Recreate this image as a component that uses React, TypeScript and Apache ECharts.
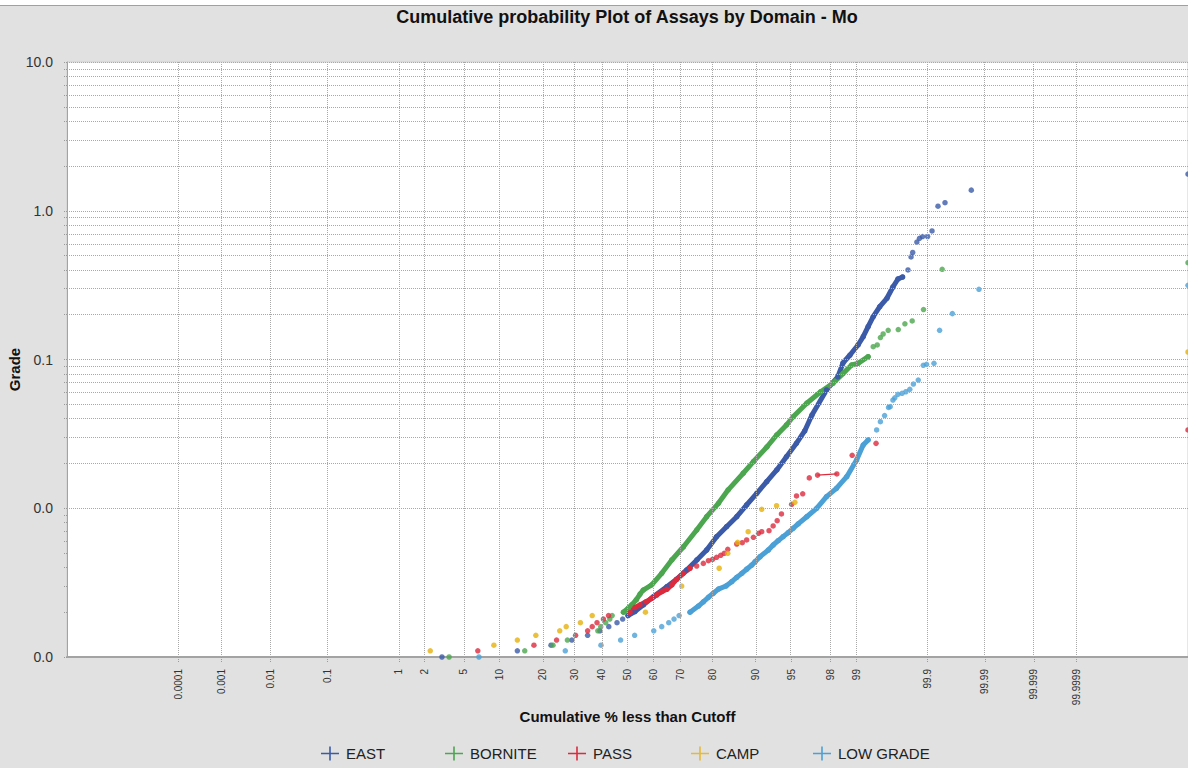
import React, { useEffect, useRef } from "react";
import * as echarts from "echarts";

const TITLE = "Cumulative probability Plot of Assays by Domain - Mo";
const X_NAME = "Cumulative % less than Cutoff";
const Y_NAME = "Grade";

const X_TICK_PCT = [0.0001, 0.001, 0.01, 0.1, 1, 2, 5, 10, 20, 30, 40, 50, 60, 70, 80, 90, 95, 98, 99, 99.9, 99.99, 99.999, 99.9999];
const X_TICK_LABELS = ["0.0001", "0.001", "0.01", "0.1", "1", "2", "5", "10", "20", "30", "40", "50", "60", "70", "80", "90", "95", "98", "99", "99.9", "99.99", "99.999", "99.9999"];
const Y_GRID_VALUES = [
  0.001, 0.002, 0.003, 0.004, 0.005, 0.006, 0.007, 0.008, 0.009,
  0.01, 0.02, 0.03, 0.04, 0.05, 0.06, 0.07, 0.08, 0.09,
  0.1, 0.2, 0.3, 0.4, 0.5, 0.6, 0.7, 0.8, 0.9,
  1, 2, 3, 4, 5, 6, 7, 8, 9, 10,
];

const NAMES = ["EAST", "BORNITE", "PASS", "CAMP", "LOW GRADE"];
const COLORS = ["#3b5aa8", "#4ca64f", "#dc2b3d", "#e6b00c", "#4ba0d6"];

// EAST
const EAST_PCT = [3.05, 13.6, 22.4, 29.1, 34.7, 39.3, 42.7, 45.9, 48.1, 99.8, 99.82, 99.83, 99.853, 99.866, 99.88, 99.9, 99.915, 99.932, 99.948, 99.982, 100];
const EAST_GRADE = [0.001, 0.0011, 0.0012, 0.0013, 0.0014, 0.0015, 0.0016, 0.0017, 0.0018, 0.4, 0.489, 0.524, 0.616, 0.653, 0.671, 0.671, 0.731, 1.073, 1.133, 1.376, 1.766];
const EAST_BAND_PCT = [50.2, 52.9, 56.2, 60.0, 65.1, 68.6, 72.1, 75.4, 78.4, 81.2, 83.8, 86.2, 88.3, 90.2, 91.85, 93.3, 94.5, 95.55, 96.3, 96.87, 97.8, 98.35, 98.56, 98.81, 99.05, 99.18, 99.29, 99.39, 99.5, 99.6, 99.67, 99.72, 99.76];
const EAST_BAND_GRADE = [0.0019, 0.00202, 0.00224, 0.00254, 0.00297, 0.00333, 0.00385, 0.00449, 0.00524, 0.00644, 0.00752, 0.00877, 0.01052, 0.0126, 0.0151, 0.0181, 0.0222, 0.0273, 0.0331, 0.0423, 0.0624, 0.0763, 0.0947, 0.1072, 0.1252, 0.1423, 0.1661, 0.1939, 0.2265, 0.2579, 0.3072, 0.3477, 0.3586];

// BORNITE
const BORNITE_PCT = [3.6, 15.3, 23.0, 27.6, 38.5, 39.6, 41.5, 43.1, 44.0, 99.39, 99.46, 99.51, 99.55, 99.616, 99.723, 99.778, 99.827, 99.884, 99.942, 100];
const BORNITE_GRADE = [0.001, 0.0011, 0.0012, 0.0013, 0.0015, 0.0016, 0.0017, 0.0018, 0.0019, 0.1219, 0.1252, 0.1405, 0.1484, 0.1572, 0.159, 0.1738, 0.1815, 0.2168, 0.4041, 0.4475];
const BORNITE_BAND_PCT = [48.4, 50.3, 51.65, 53.4, 54.9, 56.15, 59.4, 63.2, 66.9, 71.0, 75.35, 78.4, 81.7, 84.2, 87.6, 89.6, 91.9, 93.3, 94.5, 95.2, 96.47, 97.46, 98.13, 98.57, 98.86, 99.05, 99.29];
const BORNITE_BAND_GRADE = [0.002, 0.00213, 0.00224, 0.00242, 0.00265, 0.00282, 0.00305, 0.00365, 0.00449, 0.00551, 0.00714, 0.00877, 0.0108, 0.0133, 0.0172, 0.0206, 0.0259, 0.0311, 0.0363, 0.0411, 0.0508, 0.0607, 0.0692, 0.0807, 0.0918, 0.0943, 0.1044];

// PASS
const PASS_PCT = [6.65, 17.6, 24.1, 30.4, 34.7, 36.4, 38.2, 40.65, 42.6, 75.35, 77.4, 78.9, 80.1, 81.2, 82.3, 83.2, 84.1, 86.2, 87.4, 88.3, 89.6, 90.5, 91.05, 92.2, 92.8, 93.35, 93.9, 95.07, 95.56, 96.13, 96.67, 97.26, 98.31, 98.88, 99.44, 100];
const PASS_GRADE = [0.0011, 0.0012, 0.0013, 0.0014, 0.0015, 0.0016, 0.0017, 0.0018, 0.0019, 0.00409, 0.00426, 0.00444, 0.00454, 0.00468, 0.00483, 0.00498, 0.0053, 0.00575, 0.00587, 0.00612, 0.00638, 0.00679, 0.00696, 0.00706, 0.0076, 0.00825, 0.00915, 0.01063, 0.01209, 0.0125, 0.016, 0.0167, 0.017, 0.0227, 0.0273, 0.0336];
const PASS_BAND_PCT = [51.0, 52.9, 54.9, 57.2, 59.4, 61.3, 63.2, 65.1, 66.9, 68.6, 70.95, 73.2];
const PASS_BAND_GRADE = [0.00199, 0.00215, 0.00224, 0.00235, 0.00248, 0.00261, 0.00275, 0.00285, 0.00305, 0.00332, 0.00365, 0.00395];
const PASS_LINK = [31, 32];

// CAMP
const CAMP_PCT = [2.3, 9.05, 13.6, 18.1, 25.1, 27.2, 32.1, 36.4, 57.0, 70.4, 81.9, 84.1, 86.4, 88.6, 91.05, 93.27, 95.4, 100];
const CAMP_GRADE = [0.0011, 0.0012, 0.0013, 0.0014, 0.0015, 0.0016, 0.0017, 0.0019, 0.002, 0.003, 0.00395, 0.00498, 0.0059, 0.00696, 0.00984, 0.0104, 0.01096, 0.1123];

// LOW GRADE
const LOW_PCT = [6.8, 26.9, 39.7, 47.3, 52.8, 60.2, 63.2, 65.8, 67.7, 69.5, 99.45, 99.51, 99.57, 99.62, 99.64, 99.67, 99.69, 99.72, 99.756, 99.785, 99.812, 99.834, 99.86, 99.883, 99.896, 99.921, 99.936, 99.961, 99.987, 100];
const LOW_GRADE_VALUES = [0.001, 0.0011, 0.0012, 0.0013, 0.0014, 0.0015, 0.0016, 0.0017, 0.0018, 0.0019, 0.0336, 0.0382, 0.042, 0.0476, 0.0482, 0.0534, 0.0553, 0.0583, 0.0593, 0.0607, 0.063, 0.0684, 0.0728, 0.0914, 0.0928, 0.0943, 0.1572, 0.2035, 0.2964, 0.3153];
const LOW_BAND_PCT = [73.2, 75.9, 77.4, 78.9, 80.3, 81.7, 83.65, 85.05, 86.2, 87.3, 88.3, 89.3, 89.9, 90.76, 92.1, 92.8, 93.48, 94.1, 94.69, 95.22, 95.72, 96.47, 97.2, 97.8, 98.29, 98.7, 99.01, 99.18, 99.29];
const LOW_BAND_GRADE = [0.002, 0.0022, 0.00235, 0.00252, 0.00268, 0.00286, 0.003, 0.00321, 0.00343, 0.00365, 0.00389, 0.00415, 0.00437, 0.00472, 0.00524, 0.00566, 0.00605, 0.00644, 0.00685, 0.00733, 0.00784, 0.00877, 0.00999, 0.01196, 0.0136, 0.0163, 0.0211, 0.0266, 0.0288];

const FONT = '"Liberation Sans", Arial, sans-serif';
const K = 0.0155;
const X_MAX = 5.495;
const LEGEND_LEFT = [321, 445, 568, 691, 813];
const CROSS_ICON = "path://M0,6.2h18v1.6h-18z M8.2,0h1.6v14h-1.6z";

function invNorm(p: number): number {
  const a = [-3.969683028665376e1, 2.209460984245205e2, -2.759285104469687e2, 1.38357751867269e2, -3.066479806614716e1, 2.506628277459239];
  const b = [-5.447609879822406e1, 1.615858368580409e2, -1.556989798598866e2, 6.680131188771972e1, -1.328068155288572e1];
  const c = [-7.784894002430293e-3, -3.223964580411365e-1, -2.400758277161838, -2.5496710102297, 4.374664141464968, 2.938163982698783];
  const d = [7.784695709041462e-3, 3.224671290700398e-1, 2.445134137142996, 3.754408661907416];
  const plow = 0.02425;
  const phigh = 1 - plow;
  if (p < plow) {
    const q = Math.sqrt(-2 * Math.log(p));
    return (((((c[0] * q + c[1]) * q + c[2]) * q + c[3]) * q + c[4]) * q + c[5]) / ((((d[0] * q + d[1]) * q + d[2]) * q + d[3]) * q + 1);
  }
  if (p <= phigh) {
    const q = p - 0.5;
    const r = q * q;
    return ((((((a[0] * r + a[1]) * r + a[2]) * r + a[3]) * r + a[4]) * r + a[5]) * q) / (((((b[0] * r + b[1]) * r + b[2]) * r + b[3]) * r + b[4]) * r + 1);
  }
  const q = Math.sqrt(-2 * Math.log(1 - p));
  return -(((((c[0] * q + c[1]) * q + c[2]) * q + c[3]) * q + c[4]) * q + c[5]) / ((((d[0] * q + d[1]) * q + d[2]) * q + d[3]) * q + 1);
}

function pctToX(pct: number): number {
  if (pct >= 100) return X_MAX;
  if (pct <= 0) return -X_MAX;
  const z = invNorm(pct / 100);
  return z - K * z * Math.abs(z);
}

const pairs = (xs: number[], ys: number[]) => xs.map((p, i) => [pctToX(p), ys[i]]);
const X_TICK_W = X_TICK_PCT.map(pctToX);

export default function App() {
  const ref = useRef<HTMLDivElement>(null);

  useEffect(() => {
    if (!ref.current) return;
    const chart = echarts.init(ref.current, undefined, { renderer: "svg" });

    const domains = [
      { band: [EAST_BAND_PCT, EAST_BAND_GRADE], pts: [EAST_PCT, EAST_GRADE] },
      { band: [BORNITE_BAND_PCT, BORNITE_BAND_GRADE], pts: [BORNITE_PCT, BORNITE_GRADE] },
      { band: [PASS_BAND_PCT, PASS_BAND_GRADE], pts: [PASS_PCT, PASS_GRADE] },
      { band: null, pts: [CAMP_PCT, CAMP_GRADE] },
      { band: [LOW_BAND_PCT, LOW_BAND_GRADE], pts: [LOW_PCT, LOW_GRADE_VALUES] },
    ];

    const series: any[] = [
      {
        type: "scatter",
        name: "__grid",
        data: [[0, 1]],
        symbolSize: 0,
        silent: true,
        z: 1,
        markLine: {
          silent: true,
          symbol: ["none", "none"],
          label: { show: false },
          animation: false,
          lineStyle: { type: "dotted", color: "#a8a8a8", width: 1 },
          data: [
            ...X_TICK_W.map((w) => ({ xAxis: w })),
            ...Y_GRID_VALUES.map((v) => ({ yAxis: v })),
          ],
        },
      },
    ];

    domains.forEach((d, i) => {
      const color = COLORS[i];
      if (d.band) {
        series.push({
          type: "line",
          name: NAMES[i],
          data: pairs(d.band[0], d.band[1]),
          symbol: "circle",
          symbolSize: 5.5,
          showSymbol: true,
          itemStyle: { color },
          lineStyle: { color, width: 5, cap: "round", join: "round" },
          z: 3,
        });
      }
      const s: any = {
        type: "scatter",
        name: NAMES[i],
        data: pairs(d.pts[0], d.pts[1]),
        symbol: "circle",
        symbolSize: 5.5,
        itemStyle: { color },
        z: 3,
      };
      if (i === 2) {
        const p = pairs(d.pts[0], d.pts[1]);
        s.markLine = {
          silent: true,
          symbol: ["none", "none"],
          label: { show: false },
          animation: false,
          lineStyle: { type: "solid", color, width: 1.2 },
          data: [[{ coord: p[PASS_LINK[0]] }, { coord: p[PASS_LINK[1]] }]],
        };
      }
      series.push(s);
    });

    const option: any = {
      animation: false,
      backgroundColor: "#e1e1e1",
      title: {
        text: TITLE,
        left: 627,
        top: 8,
        padding: 0,
        textAlign: "center",
        textStyle: { fontFamily: FONT, fontSize: 18, fontWeight: "bold", color: "#111" },
      },
      grid: {
        left: 67,
        top: 62,
        width: 1121,
        height: 595,
        containLabel: false,
        outerBoundsMode: "none",
        show: true,
        backgroundColor: "#ffffff",
        borderColor: "#cfcfcf",
        borderWidth: 1,
      },
      xAxis: {
        type: "value",
        min: -X_MAX,
        max: X_MAX,
        name: X_NAME,
        nameLocation: "middle",
        nameGap: 52,
        nameMoveOverlap: false,
        nameTextStyle: { fontFamily: FONT, fontSize: 15, fontWeight: "bold", color: "#111" },
        axisLine: { show: true, onZero: false, lineStyle: { color: "#a3a3a3", width: 2 } },
        axisTick: { show: true, customValues: X_TICK_W, length: 5, lineStyle: { type: "dotted", color: "#9a9a9a" } },
        axisLabel: {
          customValues: X_TICK_W,
          rotate: 90,
          margin: 12,
          fontFamily: FONT,
          fontSize: 10,
          color: "#333",
          formatter: (v: number) => {
            let best = 0;
            for (let i = 1; i < X_TICK_W.length; i++) {
              if (Math.abs(X_TICK_W[i] - v) < Math.abs(X_TICK_W[best] - v)) best = i;
            }
            return X_TICK_LABELS[best];
          },
        },
        splitLine: { show: false },
      },
      yAxis: {
        type: "log",
        logBase: 10,
        min: 0.001,
        max: 10,
        name: Y_NAME,
        nameLocation: "middle",
        nameGap: 45,
        nameMoveOverlap: false,
        nameTextStyle: { fontFamily: FONT, fontSize: 15, fontWeight: "bold", color: "#111", padding: [0, 20, 0, 0] },
        axisLine: { show: true, onZero: false, lineStyle: { color: "#a3a3a3", width: 1 } },
        axisTick: { show: true, customValues: Y_GRID_VALUES, length: 4, lineStyle: { type: "dotted", color: "#9a9a9a" } },
        axisLabel: {
          margin: 14,
          fontFamily: FONT,
          fontSize: 14,
          color: "#333",
          formatter: (v: number) => Number(v).toFixed(1),
        },
        splitLine: { show: false },
        minorSplitLine: { show: false },
      },
      legend: NAMES.map((n, i) => ({
        data: [{ name: n, icon: CROSS_ICON }],
        left: LEGEND_LEFT[i],
        top: 746,
        itemWidth: 18,
        itemHeight: 14,
        itemGap: 5,
        padding: 0,
        selectedMode: false,
        textStyle: { fontFamily: FONT, fontSize: 15, color: "#222", padding: [0, 0, 0, 2] },
      })),
      graphic: [
        { type: "rect", shape: { x: 0, y: 0, width: 1188, height: 5 }, style: { fill: "#ffffff" }, silent: true },
        { type: "line", shape: { x1: 0, y1: 5.5, x2: 1188, y2: 5.5 }, style: { stroke: "#a0a0a0", lineWidth: 1 }, silent: true },
      ],
      series,
    };

    chart.setOption(option);
    return () => chart.dispose();
  }, []);

  return <div ref={ref} style={{ position: "fixed", left: 0, top: 0, width: 1188, height: 768 }} />;
}
